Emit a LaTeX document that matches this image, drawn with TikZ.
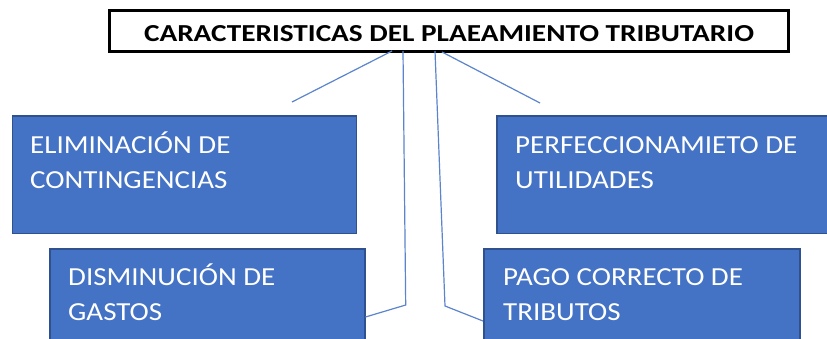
\documentclass[tikz,border=0pt]{standalone}
\usepackage{fontspec}
\usepackage{graphicx}
\setmainfont{Carlito}
\definecolor{boxfill}{HTML}{4472C4}
\definecolor{boxedge}{HTML}{2F528F}
\definecolor{linkblue}{HTML}{5B84CC}
\newcommand{\widetext}[1]{\scalebox{1.115}[1]{#1}}
\begin{document}
\begin{tikzpicture}[x=1pt,y=1pt,
  itembox/.style={draw=boxedge,line width=1.5pt,fill=boxfill,inner sep=0pt},
  itemtext/.style={text=white,font=\fontsize{26}{35}\selectfont,anchor=base west,inner sep=0pt,align=left},
  link/.style={draw=linkblue,line width=1.2pt}]
\useasboundingbox (0,0) rectangle (827,-339);
\clip (0,0) rectangle (827,-339);
% boxes
\node[itembox,minimum width=344pt,minimum height=117pt,anchor=north west] (b1) at (11.5,-115.5) {};
\node[itembox,minimum width=340pt,minimum height=117pt,anchor=north west] (b2) at (496,-115.5) {};
\node[itembox,minimum width=315pt,minimum height=120pt,anchor=north west] (b3) at (49,-248) {};
\node[itembox,minimum width=316pt,minimum height=120pt,anchor=north west] (b4) at (483,-248) {};
% texts (anchor at baseline of last line)
\node[itemtext] (t1) at (30,-188.5) {\widetext{ELIMINACIÓN DE}\\\widetext{CONTINGENCIAS}};
\node[itemtext] (t2) at (515,-188.5) {\widetext{PERFECCIONAMIETO DE}\\\widetext{UTILIDADES}};
\node[itemtext] (t3) at (68,-320) {\widetext{DISMINUCIÓN DE}\\\widetext{GASTOS}};
\node[itemtext] (t4) at (503,-320) {\widetext{PAGO CORRECTO DE}\\\widetext{TRIBUTOS}};
% title
\node[draw=black,line width=3pt,minimum width=679pt,minimum height=41pt,inner sep=0pt,anchor=north west,
  text height=21pt,text depth=0pt,
  font=\bfseries\fontsize{24.4}{30}\selectfont] (title) at (108,-9) {\scalebox{1.2}[1]{CARACTERISTICAS DEL PLAEAMIENTO TRIBUTARIO}};
% connector ends
\coordinate (e1) at (292,-102);
\coordinate (e4) at (540,-103);
\coordinate (k2) at (405.7,-305);
\coordinate (k3) at (445,-306);
\coordinate (s1) at (392,-51);
\coordinate (s2) at (403,-51);
\coordinate (s3) at (435,-51);
\coordinate (s4) at (442,-52);
\draw[link] (s1) -- (e1);
\draw[link] (s2) -- (k2) -- (b3.east |- 0,-317);
\draw[link] (s3) -- (k3) -- (b4.west |- 0,-321);
\draw[link] (s4) -- (e4);
\end{tikzpicture}
\end{document}
